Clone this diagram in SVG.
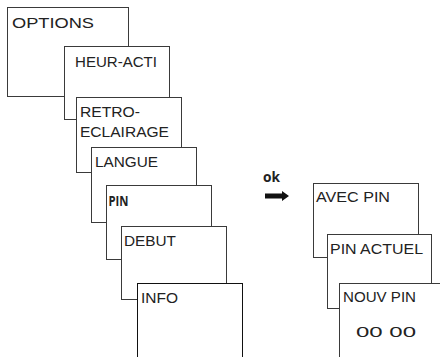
<svg xmlns="http://www.w3.org/2000/svg" width="440" height="357" viewBox="0 0 440 357">
<style>
.box{fill:#fff;stroke:#3a3a3a;stroke-width:1}
.dark{stroke:#111}
.t{font-family:"Liberation Sans",Arial,sans-serif;font-size:15.5px;fill:#222}
.b{font-family:"Open Sans","DejaVu Sans",sans-serif;font-weight:bold;font-size:14px;fill:#222}
</style>
<rect width="440" height="357" fill="#fff"/>
<g id="options"><rect class="box" x="7.5" y="7.5" width="121" height="89"/><text class="t" x="12" y="28" textLength="82" lengthAdjust="spacingAndGlyphs" font-size="16">OPTIONS</text></g>
<g id="heur-acti"><rect class="box" x="64.5" y="46.5" width="105" height="73"/><text class="t" x="75" y="67" textLength="82" lengthAdjust="spacingAndGlyphs">HEUR-ACTI</text></g>
<g id="retro"><rect class="box" x="76.5" y="97.5" width="105" height="75"/><text class="t" x="80" y="117" textLength="60" lengthAdjust="spacingAndGlyphs">RETRO-</text><text class="t" x="80" y="137" textLength="89" lengthAdjust="spacingAndGlyphs">ECLAIRAGE</text></g>
<g id="langue"><rect class="box" x="91.5" y="147.5" width="105" height="75"/><text class="t" x="95" y="167" textLength="63" lengthAdjust="spacingAndGlyphs">LANGUE</text></g>
<g id="pin"><rect class="box" x="106.5" y="185.5" width="105" height="74"/><text class="b" x="108.5" y="206" textLength="20" lengthAdjust="spacingAndGlyphs">PIN</text></g>
<g id="debut"><rect class="box" x="121.5" y="226.5" width="105" height="73"/><text class="t" x="124" y="246" textLength="52" lengthAdjust="spacingAndGlyphs">DEBUT</text></g>
<g id="info"><rect class="box dark" x="137.5" y="283.5" width="105" height="80"/><text class="t" x="141" y="303" textLength="37" lengthAdjust="spacingAndGlyphs">INFO</text></g>
<g id="avec-pin"><rect class="box" x="313.5" y="183.5" width="105" height="74"/><text class="t" x="316" y="202" textLength="74" lengthAdjust="spacingAndGlyphs">AVEC PIN</text></g>
<g id="pin-actuel"><rect class="box" x="327.5" y="234.5" width="104" height="74"/><text class="t" x="330" y="254" textLength="93" lengthAdjust="spacingAndGlyphs">PIN ACTUEL</text></g>
<g id="nouv-pin"><rect class="box" x="339.5" y="283.5" width="110" height="80"/><text class="t" x="343" y="302" textLength="73" lengthAdjust="spacingAndGlyphs">NOUV PIN</text><text class="t" x="356" y="337" font-size="20.5" textLength="60" lengthAdjust="spacingAndGlyphs">00 00</text></g>
<g id="connectors">
<text class="b" x="263" y="182" textLength="17" lengthAdjust="spacingAndGlyphs">ok</text>
<polygon points="265,193.5 282,193.5 282,191 289,196 282,201 282,198.5 265,198.5" fill="#111"/>
</g>
</svg>
